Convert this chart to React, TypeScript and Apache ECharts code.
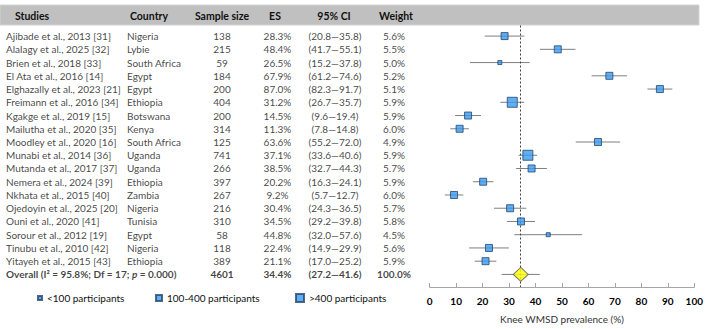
import React, { useEffect, useRef } from "react";
import * as echarts from "echarts";

const studies = [
  "Ajibade et al., 2013 [31]",
  "Alalagy et al., 2025 [32]",
  "Brien et al., 2018 [33]",
  "El Ata et al., 2016 [14]",
  "Elghazally et al., 2023 [21]",
  "Freimann et al., 2016 [34]",
  "Kgakge et al., 2019 [15]",
  "Mailutha et al., 2020 [35]",
  "Moodley et al., 2020 [16]",
  "Munabi et al., 2014 [36]",
  "Mutanda et al., 2017 [37]",
  "Nemera et al., 2024 [39]",
  "Nkhata et al., 2015 [40]",
  "Ojedoyin et al., 2025 [20]",
  "Ouni et al., 2020 [41]",
  "Sorour et al., 2012 [19]",
  "Tinubu et al., 2010 [42]",
  "Yitayeh et al., 2015 [43]",
];
const countries = [
  "Nigeria", "Lybie", "South Africa", "Egypt", "Egypt", "Ethiopia", "Botswana", "Kenya", "South Africa",
  "Uganda", "Uganda", "Ethiopia", "Zambia", "Nigeria", "Tunisia", "Egypt", "Nigeria", "Ethiopia",
];
const sampleSizes = [138, 215, 59, 184, 200, 404, 200, 314, 125, 741, 266, 397, 267, 216, 310, 58, 118, 389];
const effectSizes = [28.3, 48.4, 26.5, 67.9, 87.0, 31.2, 14.5, 11.3, 63.6, 37.1, 38.5, 20.2, 9.2, 30.4, 34.5, 44.8, 22.4, 21.1];
const ciLow = [20.8, 41.7, 15.2, 61.2, 82.3, 26.7, 9.6, 7.8, 55.2, 33.6, 32.7, 16.3, 5.7, 24.3, 29.2, 32.0, 14.9, 17.0];
const ciHigh = [35.8, 55.1, 37.8, 74.6, 91.7, 35.7, 19.4, 14.8, 72.0, 40.6, 44.3, 24.1, 12.7, 36.5, 39.8, 57.6, 29.9, 25.2];
const weights = [5.6, 5.5, 5.0, 5.2, 5.1, 5.9, 5.9, 6.0, 4.9, 5.9, 5.7, 5.9, 6.0, 5.7, 5.8, 4.5, 5.6, 5.9];

const overallLabel = "Overall";
const overallStats = { i2: "95.8%", df: 17, p: "0.000" };
const overallN = 4601;
const overallES = 34.4;
const overallLow = 27.2;
const overallHigh = 41.6;
const overallWeight = 100.0;

const headers = ["Studies", "Country", "Sample size", "ES", "95% CI", "Weight"];
const sizeGroups = ["<100 participants", "100-400 participants", ">400 participants"];
const xTicks = { min: 0, max: 100, interval: 10 };
const xTitle = "Knee WMSD prevalence (%)";

const FONT = "Lato, 'Liberation Sans', sans-serif";
const TXT = "#111";
const FS = 10;

export default function App() {
  const ref = useRef<HTMLDivElement>(null);
  useEffect(() => {
    if (!ref.current) return;
    const chart = echarts.init(ref.current, null, { renderer: "svg" });
    const n = studies.length;
    const overallIdx = n;
    const yMin = -0.8;
    const yMax = 18.95;
    const gridTop = 25.5;
    const gridBottom = 42;

    const groupOf = (s: number) => (s < 100 ? 0 : s <= 400 ? 1 : 2);
    const symbolSizes = [4, 7, 10];

    const fmtPct = (v: number) => v.toFixed(1) + "%";
    const studyTexts = studies.slice();
    const countryTexts = countries.slice();
    const sampleTexts = sampleSizes.map((s) => String(s)).concat([String(overallN)]);
    const esTexts = effectSizes.map(fmtPct).concat([fmtPct(overallES)]);
    const ciTexts = ciLow
      .map((l, i) => `(${l.toFixed(1)}\u2014${ciHigh[i].toFixed(1)})`)
      .concat([`(${overallLow.toFixed(1)}\u2014${overallHigh.toFixed(1)})`]);
    const wTexts = weights.map(fmtPct).concat([fmtPct(overallWeight)]);

    const labelBase = {
      show: true,
      position: "inside",
      verticalAlign: "middle",
      fontSize: FS,
      fontFamily: FONT,
      color: TXT,
    };

    const textSeries = (x: number, texts: string[], align: string, name: string) => ({
      type: "scatter",
      name,
      xAxisIndex: 1,
      yAxisIndex: 1,
      symbolSize: 1,
      silent: true,
      itemStyle: { color: "rgba(0,0,0,0)" },
      emphasis: { disabled: true },
      label: { ...labelBase, align },
      data: texts.map((t, i) => ({
        value: [x, i],
        label: { formatter: () => t, fontWeight: i === overallIdx ? "bold" : "normal" },
      })),
    });

    const overallRich =
      `{b|${overallLabel} (I\u00b2 = ${overallStats.i2}; Df = ${overallStats.df}; }{bi|p}{b| = ${overallStats.p})}`;

    const studySeries: any = textSeries(6, studyTexts, "left", "colStudy");
    studySeries.data.push({
      value: [6, overallIdx],
      label: {
        formatter: () => overallRich,
        rich: {
          b: { fontWeight: "bold", fontSize: FS, fontFamily: FONT, color: TXT },
          bi: { fontWeight: "bold", fontStyle: "italic", fontSize: FS, fontFamily: FONT, color: TXT },
        },
      },
    });

    const squareSeries = sizeGroups.map((g, gi) => ({
      type: "scatter",
      name: g,
      symbol: "rect",
      symbolSize: symbolSizes[gi],
      z: 5,
      itemStyle: { color: "#3a9af0", borderColor: "#23466e", borderWidth: 1 },
      data: effectSizes
        .map((e, i) => ({ e, i }))
        .filter((d) => groupOf(sampleSizes[d.i]) === gi)
        .map((d) => [d.e, d.i]),
    }));

    const ciData = ciLow.map((l, i) => [l, ciHigh[i], i]).concat([[overallLow, overallHigh, overallIdx]]);

    const legendBase = {
      top: 293,
      padding: 0,
      icon: "rect",
      textStyle: { fontSize: FS, fontFamily: FONT, color: TXT },
      selectedMode: false,
    };

    const headerXs = [15, 130, 222, 275, 334, 396];
    const headerAligns = ["left", "left", "center", "center", "center", "center"];

    chart.setOption({
      animation: false,
      textStyle: { fontFamily: FONT },
      grid: [
        { left: 429.7, right: 10.3, top: gridTop, bottom: gridBottom },
        { left: 0, width: 420, top: gridTop, bottom: gridBottom },
      ],
      xAxis: [
        {
          type: "value",
          gridIndex: 0,
          min: xTicks.min,
          max: xTicks.max,
          interval: xTicks.interval,
          splitLine: { show: false },
          axisLine: { onZero: false, lineStyle: { color: "#a6a6a6" } },
          axisTick: { inside: true, length: 4, lineStyle: { color: "#a6a6a6" } },
          axisLabel: { fontWeight: "bold", fontSize: FS, color: "#000", margin: 9, fontFamily: FONT },
          name: xTitle,
          nameLocation: "middle",
          nameGap: 27,
          nameTextStyle: { fontSize: FS, color: "#333", fontFamily: FONT },
        },
        { type: "value", gridIndex: 1, min: 0, max: 420, show: false, axisLine: { onZero: false } },
      ],
      yAxis: [
        { type: "value", gridIndex: 0, min: yMin, max: yMax, inverse: true, show: false, axisLine: { onZero: false } },
        { type: "value", gridIndex: 1, min: yMin, max: yMax, inverse: true, show: false, axisLine: { onZero: false } },
      ],
      legend: sizeGroups.map((g, gi) => ({
        ...legendBase,
        data: [g],
        left: [37, 155, 295][gi],
        itemWidth: [4, 6, 8][gi],
        itemHeight: [4, 6, 8][gi],
      })),
      graphic: [
        {
          type: "rect",
          shape: { x: 0, y: 5, width: 699, height: 20 },
          style: { fill: "#c0c0c0", stroke: "#d2d2d2", lineWidth: 1 },
          z: 0,
        },
        ...headers.map((h, i) => ({
          type: "text",
          x: headerXs[i],
          y: 15.5,
          z: 1,
          style: {
            text: h,
            textAlign: headerAligns[i],
            textVerticalAlign: "middle",
            fontWeight: "bold",
            fontSize: 10.5,
            fontFamily: FONT,
            fill: TXT,
          },
        })),
      ],
      series: [
        {
          type: "custom",
          name: "ci",
          silent: true,
          z: 3,
          data: ciData,
          encode: { x: [0, 1], y: 2 },
          renderItem: (params: any, api: any) => {
            const a = api.coord([api.value(0), api.value(2)]);
            const b = api.coord([api.value(1), api.value(2)]);
            return {
              type: "line",
              shape: { x1: a[0], y1: a[1], x2: b[0], y2: b[1] },
              style: { stroke: "#7f7f7f", lineWidth: 1 },
            };
          },
        },
        ...squareSeries,
        {
          type: "scatter",
          name: "Overall",
          symbol: "diamond",
          symbolSize: [15, 14],
          z: 6,
          itemStyle: { color: "#ffff00", borderColor: "#595959", borderWidth: 1 },
          data: [[overallES, overallIdx]],
          markLine: {
            silent: true,
            symbol: "none",
            label: { show: false },
            lineStyle: { type: [2, 2], color: "#404040", width: 1 },
            data: [{ xAxis: overallES }],
          },
        },
        studySeries,
        textSeries(127, countryTexts, "left", "colCountry"),
        textSeries(222, sampleTexts, "center", "colSample"),
        textSeries(277.5, esTexts, "center", "colES"),
        textSeries(335, ciTexts, "center", "colCI"),
        textSeries(394, wTexts, "center", "colWeight"),
      ],
    });
    return () => chart.dispose();
  }, []);
  return (
    <div
      ref={ref}
      style={{ position: "fixed", left: 0, top: 0, width: 706, height: 329, background: "#fff" }}
    />
  );
}
